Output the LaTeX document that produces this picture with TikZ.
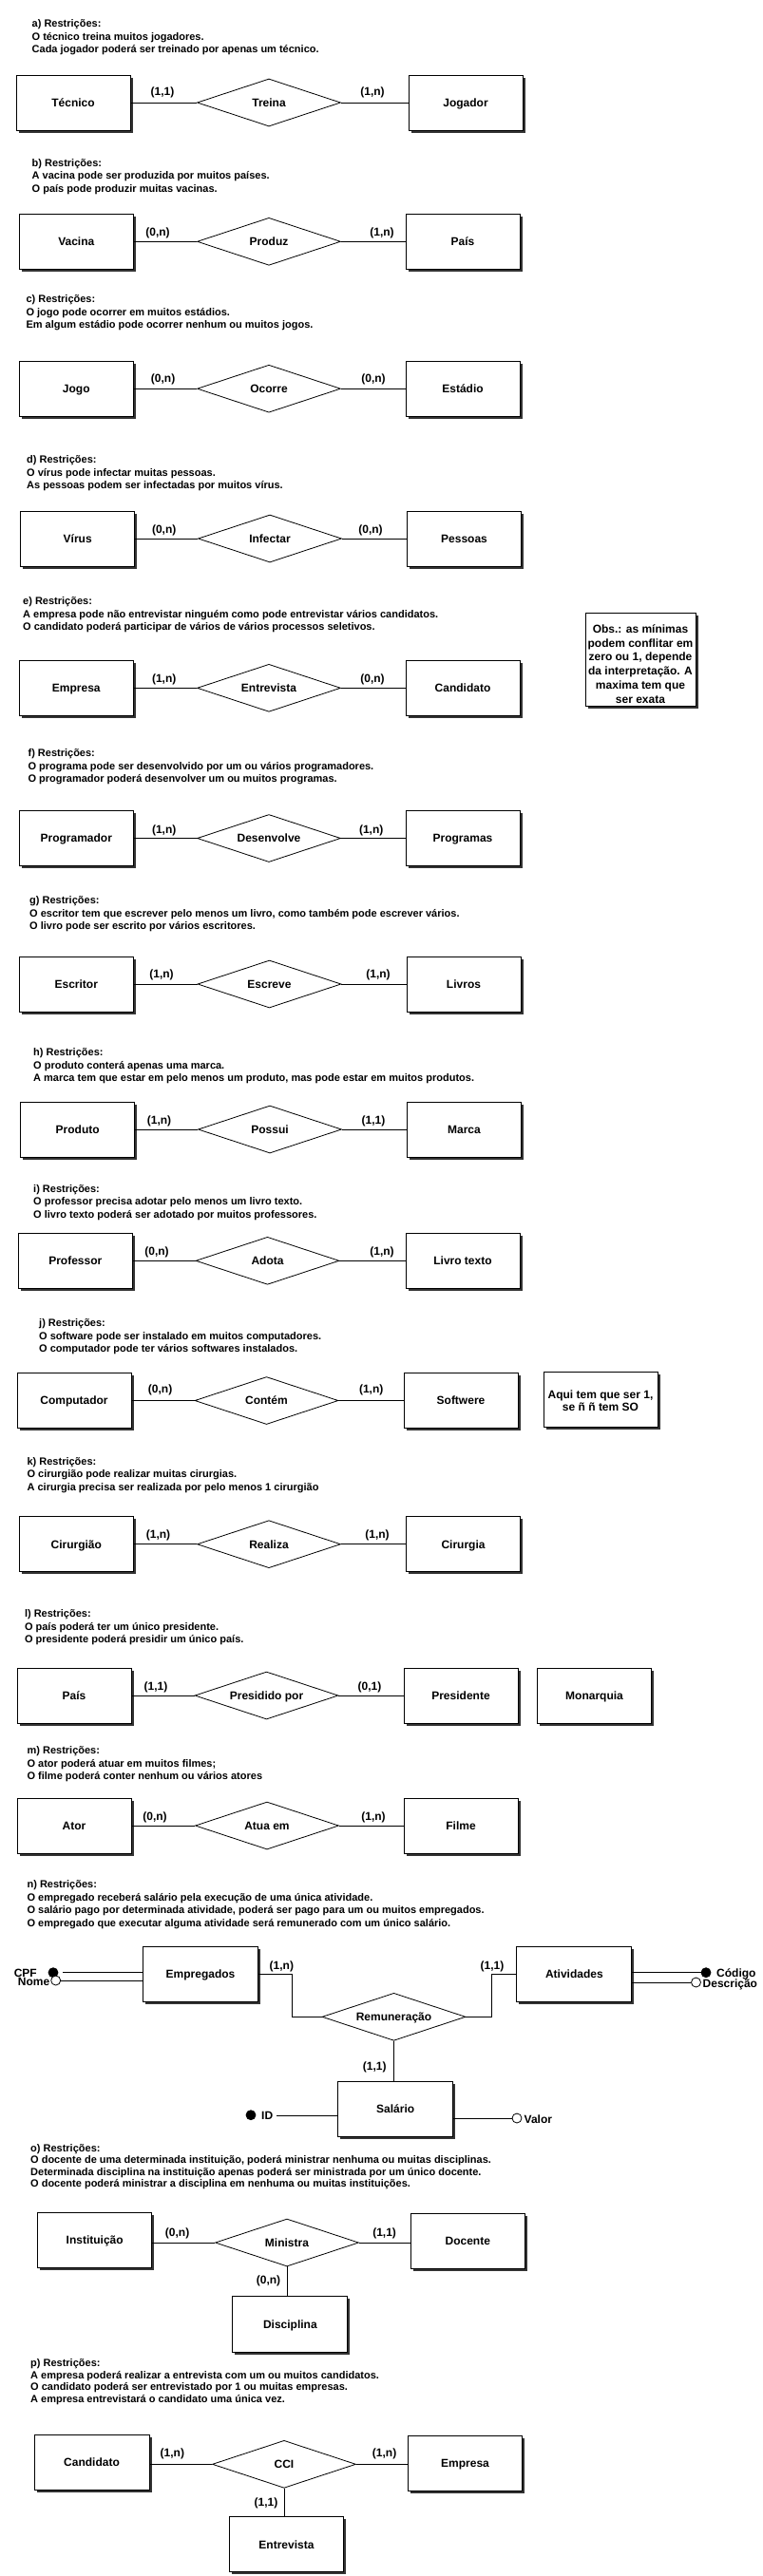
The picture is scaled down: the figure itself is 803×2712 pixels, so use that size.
\documentclass[tikz,border=0pt]{standalone}
\usepackage{fontspec}
\setmainfont{Liberation Sans}
\usetikzlibrary{shapes.geometric,shadows}
\newcommand\rlines[1]{\begin{tabular}[t]{@{}l@{}}#1\end{tabular}}
\newcommand\clines[1]{\begin{tabular}[t]{@{}c@{}}#1\end{tabular}}
\begin{document}
\begin{tikzpicture}[x=1pt,y=-1pt,
  every node/.style={inner sep=0pt, font=\fontsize{12}{14}\selectfont\bfseries},
  entity/.style={rectangle, draw=black, fill=white, line width=0.9pt,
    minimum width=120pt, minimum height=58pt, text height=8.6pt, text depth=0pt,
    drop shadow={shadow xshift=2.5pt, shadow yshift=-2.5pt, fill=black!80, opacity=1}},
  notebox/.style={rectangle, draw=black, fill=white, line width=0.9pt,
    drop shadow={shadow xshift=2.5pt, shadow yshift=-2.5pt, fill=black!80, opacity=1}},
  rel/.style={diamond, aspect=3, draw=black, fill=white, line width=0.8pt,
    minimum width=151pt, minimum height=50pt, text height=8.6pt, text depth=0pt},
  card/.style={text height=8.6pt, text depth=2.5pt},
  lbl/.style={text height=8.6pt, text depth=0pt},
  restr/.style={anchor=base west, font=\fontsize{11}{13.5}\selectfont\bfseries},
  conn/.style={line width=0.8pt},
  keyattr/.style={circle, draw=black, fill=black, line width=0.8pt, minimum size=10pt},
  plainattr/.style={circle, draw=black, fill=white, line width=0.8pt, minimum size=10pt}
]
\fill[white] (0,0) rectangle (803,2712);
\useasboundingbox (0,0) rectangle (803,2712);

% ---------- a
\node[restr] (ra) at (33.5,28.5) {\rlines{a) Restrições:\\O técnico treina muitos jogadores.\\Cada jogador poderá ser treinado por apenas um técnico.}};
\node[entity] (tecnico) at (77,108) {Técnico};
\node[rel] (treina) at (283,108) {Treina};
\node[entity] (jogador) at (490,108) {Jogador};
\draw[conn] (tecnico) -- (treina);
\draw[conn] (treina) -- (jogador);
\node[card] (ca1) at (171,97.7) {(1,1)};
\node[card] (ca2) at (392,97.7) {(1,n)};

% ---------- b
\node[restr] (rb) at (33.5,175.2) {\rlines{b) Restrições:\\A vacina pode ser produzida por muitos países.\\O país pode produzir muitas vacinas.}};
\node[entity] (vacina) at (80.3,254.3) {Vacina};
\node[rel] (produz) at (283,254.3) {Produz};
\node[entity] (paisb) at (487,254.3) {País};
\draw[conn] (vacina) -- (produz);
\draw[conn] (produz) -- (paisb);
\node[card] (cb1) at (166,245) {(0,n)};
\node[card] (cb2) at (402,245) {(1,n)};

% ---------- c
\node[restr] (rc) at (27.3,318.5) {\rlines{c) Restrições:\\O jogo pode ocorrer em muitos estádios.\\Em algum estádio pode ocorrer nenhum ou muitos jogos.}};
\node[entity] (jogo) at (80.3,409.2) {Jogo};
\node[rel] (ocorre) at (283,409.2) {Ocorre};
\node[entity] (estadio) at (487,409.2) {Estádio};
\draw[conn] (jogo) -- (ocorre);
\draw[conn] (ocorre) -- (estadio);
\node[card] (cc1) at (171.6,399) {(0,n)};
\node[card] (cc2) at (393,399) {(0,n)};

% ---------- d
\node[restr] (rd) at (28,487.8) {\rlines{d) Restrições:\\O vírus pode infectar muitas pessoas.\\As pessoas podem ser infectadas por muitos vírus.}};
\node[entity] (virus) at (81.7,567) {Vírus};
\node[rel] (infectar) at (284,567) {Infectar};
\node[entity] (pessoas) at (488.5,567) {Pessoas};
\draw[conn] (virus) -- (infectar);
\draw[conn] (infectar) -- (pessoas);
\node[card] (cd1) at (172.7,558.3) {(0,n)};
\node[card] (cd2) at (390,558.3) {(0,n)};

% ---------- e
\node[restr] (re) at (24,636.8) {\rlines{e) Restrições:\\A empresa pode não entrevistar ninguém como pode entrevistar vários candidatos.\\O candidato poderá participar de vários de vários processos seletivos.}};
\node[entity] (empresae) at (80.3,724.3) {Empresa};
\node[rel] (entrevistae) at (283,724.3) {Entrevista};
\node[entity] (candidatoe) at (487,724.3) {Candidato};
\draw[conn] (empresae) -- (entrevistae);
\draw[conn] (entrevistae) -- (candidatoe);
\node[card] (ce1) at (172.7,715) {(1,n)};
\node[card] (ce2) at (392,715) {(0,n)};
\node[notebox, minimum width=116pt, minimum height=98pt] (obs) at (674,694) {};
\node[anchor=base, font=\fontsize{12}{14.8}\selectfont\bfseries] (obstext) at (674,666.3) {\clines{Obs.: as mínimas\\podem conflitar em\\zero ou 1, depende\\da interpretação. A\\maxima tem que\\ser exata}};

% ---------- f
\node[restr] (rf) at (29.4,796.8) {\rlines{f) Restrições:\\O programa pode ser desenvolvido por um ou vários programadores.\\O programador poderá desenvolver um ou muitos programas.}};
\node[entity] (programador) at (80.3,882.5) {Programador};
\node[rel] (desenvolve) at (283,882.5) {Desenvolve};
\node[entity] (programas) at (487,882.5) {Programas};
\draw[conn] (programador) -- (desenvolve);
\draw[conn] (desenvolve) -- (programas);
\node[card] (cf1) at (172.7,874) {(1,n)};
\node[card] (cf2) at (390.7,874) {(1,n)};

% ---------- g
\node[restr] (rg) at (31,951.8) {\rlines{g) Restrições:\\O escritor tem que escrever pelo menos um livro, como também pode escrever vários.\\O livro pode ser escrito por vários escritores.}};
\node[entity] (escritor) at (80.3,1036) {Escritor};
\node[rel] (escreve) at (283.5,1036) {Escreve};
\node[entity] (livros) at (488,1036) {Livros};
\draw[conn] (escritor) -- (escreve);
\draw[conn] (escreve) -- (livros);
\node[card] (cg1) at (170,1026.7) {(1,n)};
\node[card] (cg2) at (398,1026.7) {(1,n)};

% ---------- h
\node[restr] (rh) at (35,1111.8) {\rlines{h) Restrições:\\O produto conterá apenas uma marca.\\A marca tem que estar em pelo menos um produto, mas pode estar em muitos produtos.}};
\node[entity] (produto) at (81.7,1189) {Produto};
\node[rel] (possui) at (284,1189) {Possui};
\node[entity] (marca) at (488.5,1189) {Marca};
\draw[conn] (produto) -- (possui);
\draw[conn] (possui) -- (marca);
\node[card] (ch1) at (167.5,1180) {(1,n)};
\node[card] (ch2) at (393,1180) {(1,1)};

% ---------- i
\node[restr] (ri) at (35,1255.2) {\rlines{i) Restrições:\\O professor precisa adotar pelo menos um livro texto.\\O livro texto poderá ser adotado por muitos professores.}};
\node[entity] (professor) at (79.3,1327.3) {Professor};
\node[rel] (adota) at (281.5,1327.3) {Adota};
\node[entity] (livrotexto) at (487,1327.3) {Livro texto};
\draw[conn] (professor) -- (adota);
\draw[conn] (adota) -- (livrotexto);
\node[card] (ci1) at (165,1318.3) {(0,n)};
\node[card] (ci2) at (402,1318.3) {(1,n)};

% ---------- j
\node[restr] (rj) at (41,1396.8) {\rlines{j) Restrições:\\O software pode ser instalado em muitos computadores.\\O computador pode ter vários softwares instalados.}};
\node[entity] (computador) at (78,1474.5) {Computador};
\node[rel] (contem) at (280.5,1474.5) {Contém};
\node[entity] (softwere) at (485,1474.5) {Softwere};
\node[notebox, minimum width=120pt, minimum height=58pt] (aqui) at (632,1473.3) {};
\node[anchor=base, font=\fontsize{12}{13}\selectfont\bfseries] (aquitext) at (632,1472) {\clines{Aqui tem que ser 1,\\se ñ ñ tem SO}};
\draw[conn] (computador) -- (contem);
\draw[conn] (contem) -- (softwere);
\node[card] (cj1) at (168.6,1463.3) {(0,n)};
\node[card] (cj2) at (390.7,1463.3) {(1,n)};

% ---------- k
\node[restr] (rk) at (28.4,1542) {\rlines{k) Restrições:\\O cirurgião pode realizar muitas cirurgias.\\A cirurgia precisa ser realizada por pelo menos 1 cirurgião}};
\node[entity] (cirurgiao) at (80.3,1625.7) {Cirurgião};
\node[rel] (realiza) at (283,1625.7) {Realiza};
\node[entity] (cirurgia) at (487.5,1625.7) {Cirurgia};
\draw[conn] (cirurgiao) -- (realiza);
\draw[conn] (realiza) -- (cirurgia);
\node[card] (ck1) at (166.5,1616.7) {(1,n)};
\node[card] (ck2) at (397,1616.7) {(1,n)};

% ---------- l
\node[restr] (rl) at (25.8,1702.5) {\rlines{l) Restrições:\\O país poderá ter um único presidente.\\O presidente poderá presidir um único país.}};
\node[entity] (paisl) at (78,1785) {País};
\node[rel] (presidido) at (280.5,1785) {Presidido por};
\node[entity] (presidente) at (485,1785) {Presidente};
\node[entity] (monarquia) at (625.5,1785) {Monarquia};
\draw[conn] (paisl) -- (presidido);
\draw[conn] (presidido) -- (presidente);
\node[card] (cl1) at (164,1776.7) {(1,1)};
\node[card] (cl2) at (389,1776.7) {(0,1)};

% ---------- m
\node[restr] (rm) at (28.4,1846.8) {\rlines{m) Restrições:\\O ator poderá atuar em muitos filmes;\\O filme poderá conter nenhum ou vários atores}};
\node[entity] (ator) at (78,1922) {Ator};
\node[rel] (atua) at (281,1922) {Atua em};
\node[entity] (filme) at (485,1922) {Filme};
\draw[conn] (ator) -- (atua);
\draw[conn] (atua) -- (filme);
\node[card] (cm1) at (163,1913.3) {(0,n)};
\node[card] (cm2) at (393,1913.3) {(1,n)};

% ---------- n
\node[restr] (rn) at (28.4,1987.5) {\rlines{n) Restrições:\\O empregado receberá salário pela execução de uma única atividade.\\O salário pago por determinada atividade, poderá ser pago para um ou muitos empregados.\\O empregado que executar alguma atividade será remunerado com um único salário.}};
\node[entity, minimum width=121pt] (emp) at (211,2078) {Empregados};
\node[rel] (rem) at (414.5,2123.3) {Remuneração};
\node[entity, minimum width=121pt] (ativ) at (604.4,2078) {Atividades};
\node[entity, minimum width=121pt] (sal) at (416.2,2220.3) {Salário};
\draw[conn] (emp.east) -- ++(35,0) |- (rem.west);
\draw[conn] (rem.east) -- ++(27,0) |- (ativ.west);
\draw[conn] (rem.south) -- (rem.south |- sal.north);
\node[card] (cn1) at (296.4,2070) {(1,n)};
\node[card] (cn2) at (518,2070) {(1,1)};
\node[card] (cn3) at (394.3,2176.7) {(1,1)};
\node[keyattr] (cpf) at (56,2076.7) {};
\node[lbl, anchor=east] (tcpf) at (39,2077.5) {CPF};
\draw[conn] ([xshift=5pt]cpf.east) -- (cpf -| emp.west);
\node[plainattr] (nome) at (58.7,2085) {};
\node[lbl, anchor=east] (tnome) at (52.5,2086) {Nome};
\draw[conn] (nome.east) -- (nome -| emp.west);
\node[keyattr] (cod) at (743,2076.7) {};
\node[lbl, anchor=west] (tcod) at (754,2077.5) {Código};
\draw[conn] (ativ.east |- cod) -- (cod.west);
\node[plainattr] (desc) at (732.5,2087) {};
\node[lbl, anchor=west] (tdesc) at (739.5,2088.5) {Descrição};
\draw[conn] (ativ.east |- desc) -- (desc.west);
\node[keyattr] (idk) at (264,2226.7) {};
\node[lbl, anchor=west] (tid) at (275,2227) {ID};
\draw[conn] ([xshift=4pt]tid.east) -- (tid.east -| sal.west);
\node[plainattr] (valor) at (544,2230) {};
\node[lbl, anchor=west] (tvalor) at (551.5,2231) {Valor};
\draw[conn] (sal.east |- valor) -- (valor.west);

% ---------- o
\node[restr, font=\fontsize{11}{12.6}\selectfont\bfseries] (ro) at (32,2265) {\rlines{o) Restrições:\\O docente de uma determinada instituição, poderá ministrar nenhuma ou muitas disciplinas.\\Determinada disciplina na instituição apenas poderá ser ministrada por um único docente.\\O docente poderá ministrar a disciplina em nenhuma ou muitas instituições.}};
\node[entity] (inst) at (99.7,2358.5) {Instituição};
\node[rel] (ministra) at (302,2361) {Ministra};
\node[entity] (docente) at (492.3,2359.3) {Docente};
\node[entity, minimum width=121pt, minimum height=59pt] (disc) at (305.4,2446.8) {Disciplina};
\draw[conn] (inst.east |- ministra.west) -- (ministra.west);
\draw[conn] (ministra.east) -- (ministra.east -| docente.west);
\draw[conn] (ministra.south) -- (ministra.south |- disc.north);
\node[card] (co1) at (186.6,2351.7) {(0,n)};
\node[card] (co2) at (404.6,2351.7) {(1,1)};
\node[card] (co3) at (282.5,2401.7) {(0,n)};

% ---------- p
\node[restr, font=\fontsize{11}{12.4}\selectfont\bfseries] (rp) at (32,2491.8) {\rlines{p) Restrições:\\A empresa poderá realizar a entrevista com um ou muitos candidatos.\\O candidato poderá ser entrevistado por 1 ou muitas empresas.\\A empresa entrevistará o candidato uma única vez.}};
\node[entity, minimum width=121pt] (candp) at (96.5,2592) {Candidato};
\node[rel] (cci) at (299,2594.3) {CCI};
\node[entity] (empp) at (489.5,2593) {Empresa};
\node[entity] (entp) at (301.5,2678.7) {Entrevista};
\draw[conn] (candp.east |- cci.west) -- (cci.west);
\draw[conn] (cci.east) -- (cci.east -| empp.west);
\draw[conn] (cci.south) -- (cci.south |- entp.north);
\node[card] (cp1) at (181.4,2583.3) {(1,n)};
\node[card] (cp2) at (404.6,2583.3) {(1,n)};
\node[card] (cp3) at (280,2635) {(1,1)};
\end{tikzpicture}
\end{document}
